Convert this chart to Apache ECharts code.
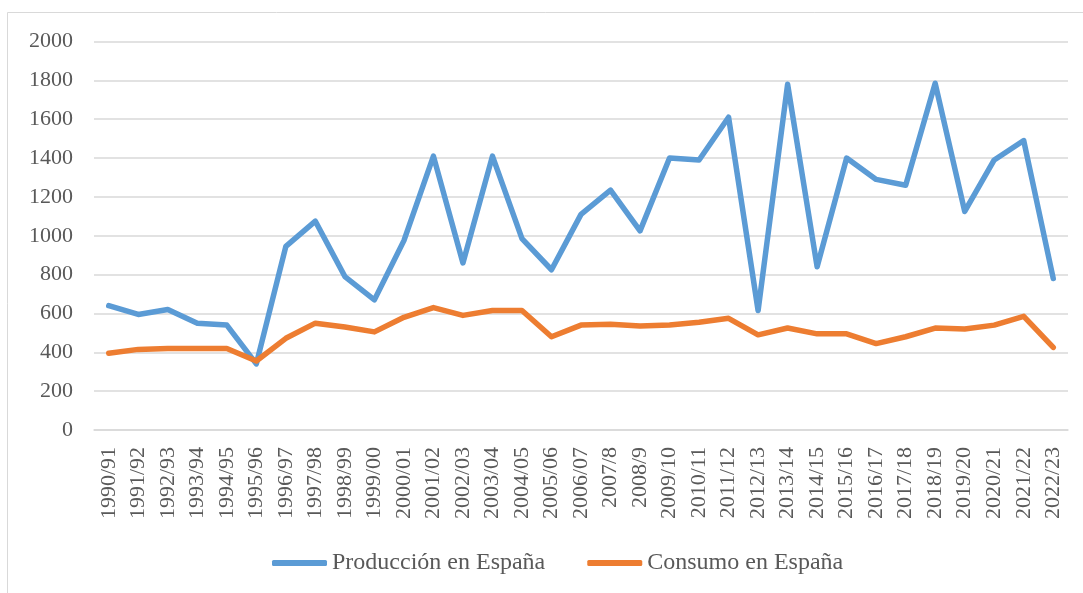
<!DOCTYPE html>
<html>
<head>
<meta charset="utf-8">
<script src="https://cdn.jsdelivr.net/npm/echarts@6/dist/echarts.min.js"></script>
<style>
  html, body { margin: 0; padding: 0; background: #fff; }
  #chart { width: 1083px; height: 593px; }
</style>
</head>
<body>
<div id="chart"></div>
<script>
// Campaigns (marketing years)
const campaigns = [
  '1990/91','1991/92','1992/93','1993/94','1994/95','1995/96','1996/97','1997/98',
  '1998/99','1999/00','2000/01','2001/02','2002/03','2003/04','2004/05','2005/06',
  '2006/07','2007/8','2008/9','2009/10','2010/11','2011/12','2012/13','2013/14',
  '2014/15','2015/16','2016/17','2017/18','2018/19','2019/20','2020/21','2021/22','2022/23'
];

// Production in Spain
const produccion = [
  640, 595, 620, 550, 540, 340, 945, 1075,
  790, 670, 975, 1410, 860, 1410, 985, 825,
  1110, 1235, 1025, 1400, 1390, 1610, 615, 1780,
  840, 1400, 1290, 1260, 1785, 1125, 1390, 1490, 780
];

// Consumption in Spain
const consumo = [
  395, 415, 420, 420, 420, 355, 472, 550,
  530, 505, 580, 630, 590, 615, 615, 480,
  540, 545, 535, 540, 555, 575, 490, 525,
  495, 495, 445, 480, 525, 520, 540, 585, 425
];

const seriesNames = ['Producción en España', 'Consumo en España'];
const seriesColors = ['#5B9BD5', '#ED7D31'];

const font = "'Liberation Serif', 'Times New Roman', serif";
const chart = echarts.init(document.getElementById('chart'));

chart.setOption({
  animation: false,
  backgroundColor: '#ffffff',
  textStyle: { fontFamily: font },
  graphic: [{
    type: 'rect',
    shape: { x: 7.5, y: 12.5, width: 1100, height: 620 },
    style: { fill: 'none', stroke: '#d9d9d9', lineWidth: 1 },
    silent: true
  }],
  grid: { left: 94, right: 15, top: 41.5, bottom: 163, containLabel: false },
  legend: {
    bottom: 13,
    left: 267,
    icon: 'roundRect',
    itemWidth: 55,
    itemHeight: 6,
    itemGap: 42,
    textStyle: { fontFamily: font, fontSize: 24, color: '#595959' },
    data: seriesNames
  },
  xAxis: {
    type: 'category',
    data: campaigns,
    boundaryGap: true,
    axisLine: { show: true, lineStyle: { color: '#d9d9d9', width: 1.5 } },
    axisTick: { show: false },
    axisLabel: {
      interval: 0,
      rotate: 90,
      margin: 17,
      fontFamily: font,
      fontSize: 22,
      color: '#595959'
    }
  },
  yAxis: {
    type: 'value',
    min: 0,
    max: 2000,
    interval: 200,
    axisLine: { show: false },
    axisTick: { show: false },
    splitLine: { lineStyle: { color: '#d9d9d9', width: 1.5 } },
    axisLabel: {
      margin: 21,
      fontFamily: font,
      fontSize: 22,
      color: '#595959',
      formatter: v => String(v)
    }
  },
  series: [
    {
      name: seriesNames[0],
      type: 'line',
      data: produccion,
      showSymbol: false,
      color: seriesColors[0],
      lineStyle: { width: 5.5, color: seriesColors[0], join: 'round', cap: 'round' }
    },
    {
      name: seriesNames[1],
      type: 'line',
      data: consumo,
      showSymbol: false,
      color: seriesColors[1],
      lineStyle: { width: 5.5, color: seriesColors[1], join: 'round', cap: 'round' }
    }
  ]
});
</script>
</body>
</html>
